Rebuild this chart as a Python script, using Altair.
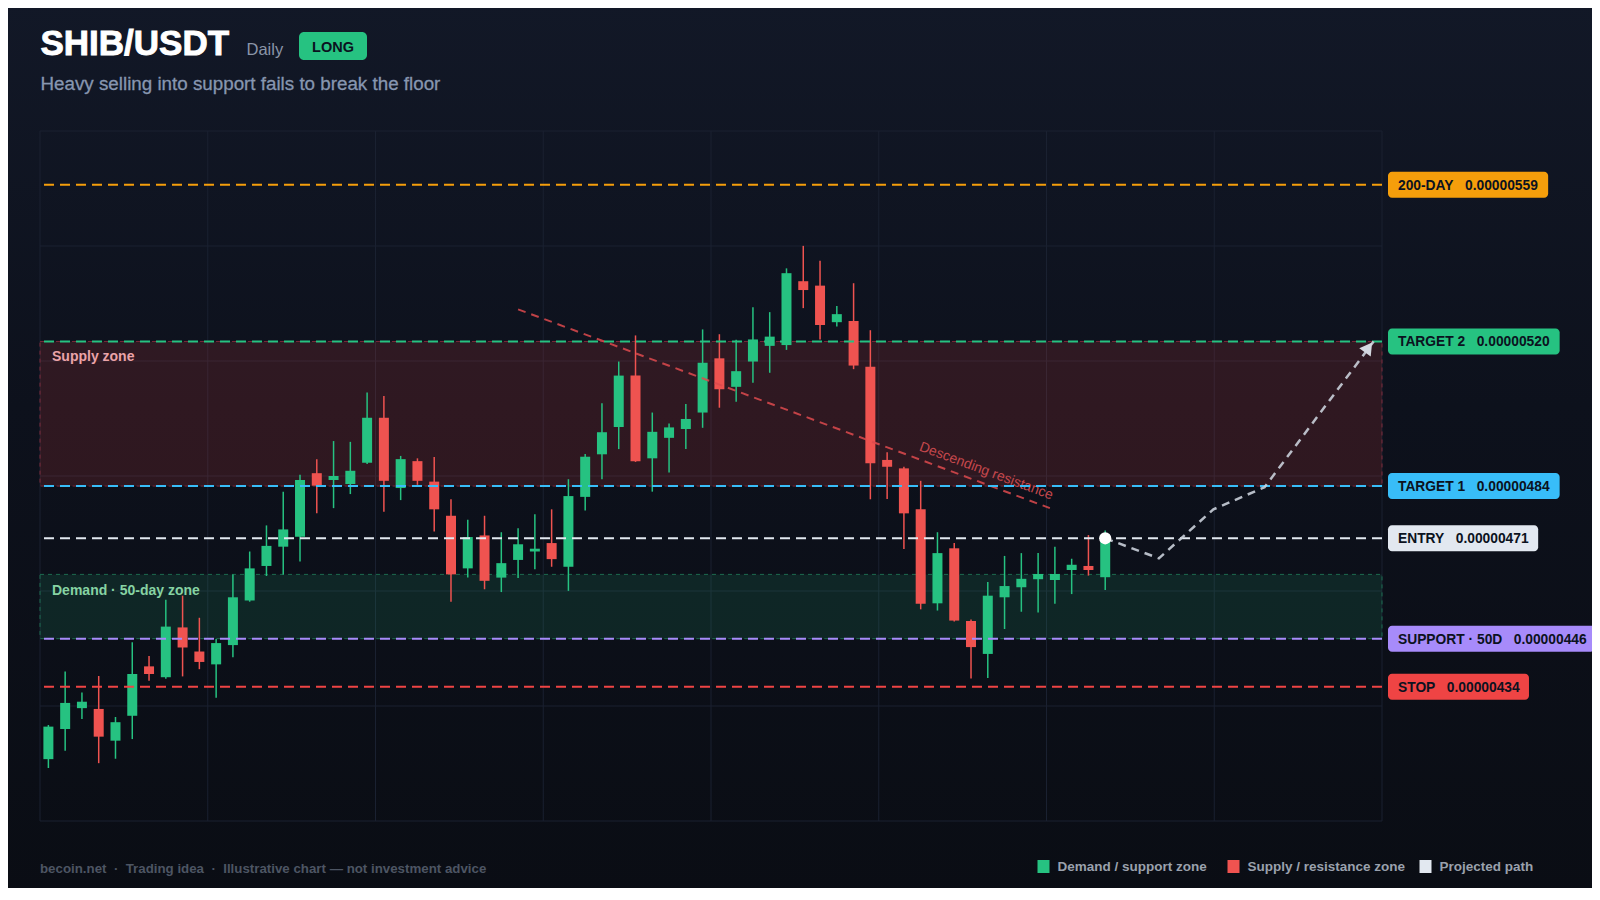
import altair as alt
import pandas as pd

# ---------------- data (prices in units of 1e-8 USDT) ----------------
SCALE = 1e-8

OPEN = [416.0, 423.5, 428.7, 428.5, 420.6, 426.8, 439.1, 436.4, 448.8, 442.8,
        439.6, 444.4, 455.5, 464.1, 468.9, 471.4, 487.2, 485.5, 484.5, 489.8,
        501.0, 483.5, 490.2, 485.1, 476.6, 463.5, 471.7, 461.2, 465.6, 467.7,
        469.8, 463.9, 481.3, 491.9, 498.7, 511.5, 490.9, 496.0, 498.2, 502.3,
        515.8, 508.7, 515.0, 518.9, 519.1, 535.0, 533.9, 524.8, 525.1, 513.7,
        490.5, 488.4, 478.2, 454.8, 468.5, 450.4, 442.2, 456.3, 458.8, 460.8,
        460.6, 463.1, 464.1, 461.3]
HIGH = [424.5, 437.8, 432.6, 436.7, 426.5, 445.1, 441.7, 455.7, 456.7, 451.2,
        445.9, 462.0, 467.7, 474.2, 482.6, 486.8, 490.7, 495.2, 495.0, 507.3,
        506.4, 491.5, 490.9, 491.2, 480.7, 475.6, 476.6, 472.5, 473.5, 477.0,
        478.2, 485.7, 492.0, 504.6, 515.0, 521.5, 502.3, 499.6, 504.4, 523.0,
        521.8, 520.4, 528.5, 527.3, 538.2, 543.8, 540.1, 528.8, 534.5, 522.8,
        492.4, 488.8, 485.3, 472.5, 469.8, 450.8, 460.1, 466.6, 467.3, 467.3,
        468.9, 465.9, 471.8, 472.9]
LOW = [413.8, 418.1, 426.0, 415.0, 416.1, 421.0, 435.5, 436.0, 436.6, 438.4,
       431.3, 441.4, 455.2, 461.6, 462.0, 465.2, 477.2, 478.5, 482.0, 489.5,
       477.6, 480.5, 484.3, 472.7, 455.2, 461.2, 458.3, 457.6, 461.1, 463.3,
       463.9, 457.9, 477.9, 485.7, 493.2, 490.0, 482.6, 487.4, 493.2, 498.5,
       503.5, 505.0, 509.7, 512.2, 517.9, 528.3, 520.5, 523.7, 513.1, 480.7,
       480.8, 468.3, 453.3, 453.0, 450.3, 436.1, 436.2, 448.4, 452.7, 452.5,
       454.7, 457.1, 461.7, 458.1]
CLOSE = [424.1, 430.0, 430.3, 421.6, 425.2, 437.2, 437.2, 449.0, 443.8, 440.2,
         444.9, 456.3, 463.5, 469.1, 473.2, 485.5, 484.1, 486.5, 487.8, 501.0,
         485.3, 490.7, 485.3, 478.2, 462.0, 471.3, 460.4, 464.8, 469.5, 468.4,
         465.8, 481.5, 491.3, 497.4, 511.5, 490.2, 497.5, 498.6, 500.7, 514.7,
         508.1, 512.6, 520.5, 521.2, 537.0, 532.8, 524.1, 526.8, 514.0, 489.7,
         488.8, 477.2, 454.7, 467.3, 450.5, 443.9, 456.7, 459.1, 460.9, 462.1,
         462.1, 464.4, 463.1, 471.0]

LEVEL_NAMES = ["200-DAY", "TARGET 2", "TARGET 1", "ENTRY", "SUPPORT · 50D", "STOP"]
LEVEL_VALUES = [559, 520, 484, 471, 446, 434]
LEVEL_COLORS = ["#f59e0b", "#26c281", "#38bdf8", "#e2e8f0", "#a78bfa", "#ef4444"]

SUPPLY_ZONE = [484, 520]
DEMAND_ZONE = [446, 462]

RES_X = [28, 59.7]
RES_Y = [528, 478.5]

PATH_X = [63, 66.2, 69.45, 72.5, 79]
PATH_Y = [471, 466, 478.2, 483.7, 520]
ARROW_X, ARROW_Y = 78.7, 518.5

N_SLOTS = 80
Y_DOMAIN = [400.6, 572.4]

# ---------------- style ----------------
W, H = 1342, 690
FONT = "Liberation Sans"
GREEN = "#26c281"
RED = "#ef5350"
GRID = "#1a2131"
DARK_TXT = "#0b1220"
LABEL_FS = 13.8

XS = alt.Scale(domain=[-0.5, N_SLOTS - 0.5], nice=False, zero=False, padding=0)
YS = alt.Scale(domain=[Y_DOMAIN[0] * SCALE, Y_DOMAIN[1] * SCALE], nice=False, zero=False, padding=0)

one = pd.DataFrame({"k": [0]})
NB = "\u00a0"


def X(f):
    return alt.X(f, type="quantitative", scale=XS, axis=None)


def Y(f):
    return alt.Y(f, type="quantitative", scale=YS, axis=None)


# Arial/Liberation Sans Bold advance widths (em)
AB = {c: 0.556 for c in "0123456789"}
AB.update({".": 0.278, "-": 0.333, " ": 0.278, NB: 0.278, "·": 0.278,
           "A": 0.722, "D": 0.722, "Y": 0.667, "T": 0.611, "R": 0.722, "G": 0.778,
           "E": 0.667, "N": 0.722, "S": 0.667, "U": 0.722, "P": 0.667, "O": 0.778})


def text_w(s, size):
    return sum(AB.get(c, 0.6) for c in s) * size


# ---------------- frames ----------------
cd = pd.DataFrame({
    "i": list(range(len(OPEN))),
    "o": [v * SCALE for v in OPEN],
    "h": [v * SCALE for v in HIGH],
    "l": [v * SCALE for v in LOW],
    "c": [v * SCALE for v in CLOSE],
    "col": [GREEN if c >= o else RED for o, c in zip(OPEN, CLOSE)],
})

gx = pd.DataFrame({"x": [-0.5 + 10 * k for k in range(9)]})
gy = pd.DataFrame({"y": [(Y_DOMAIN[0] + k * (Y_DOMAIN[1] - Y_DOMAIN[0]) / 6) * SCALE for k in range(7)]})

zd = pd.DataFrame({
    "x0": [-0.5, -0.5], "x1": [N_SLOTS - 0.5, N_SLOTS - 0.5],
    "lo": [SUPPLY_ZONE[0] * SCALE, DEMAND_ZONE[0] * SCALE],
    "hi": [SUPPLY_ZONE[1] * SCALE, DEMAND_ZONE[1] * SCALE],
    "fill": ["#ef4444", GREEN],
    "stroke": ["#7a2a3a", "#1d6b4f"],
    "op": [0.15, 0.13],
})

ld = pd.DataFrame({
    "name": LEVEL_NAMES,
    "p": [v * SCALE for v in LEVEL_VALUES],
    "col": LEVEL_COLORS,
    "txt": [f"{n}{NB * 3}{v * SCALE:.8f}" for n, v in zip(LEVEL_NAMES, LEVEL_VALUES)],
})

rd = pd.DataFrame({"x": RES_X, "y": [v * SCALE for v in RES_Y]})
pdx = pd.DataFrame({"x": PATH_X, "y": [v * SCALE for v in PATH_Y], "o": list(range(len(PATH_X)))})

# ---------------- layers ----------------
layers = []

bg = alt.Chart(one).mark_rect(
    color=alt.LinearGradient(
        gradient="linear",
        stops=[alt.GradientStop(color="#121827", offset=0),
               alt.GradientStop(color="#0d111c", offset=0.45),
               alt.GradientStop(color="#0a0d14", offset=1)],
        x1=0, x2=0, y1=0, y2=1)
).encode(x=alt.value(-40), x2=alt.value(W + 240), y=alt.value(-131), y2=alt.value(H + 80))
layers.append(bg)

layers.append(alt.Chart(gx).mark_rule(color=GRID, strokeWidth=1).encode(x=X("x")))
layers.append(alt.Chart(gy).mark_rule(color=GRID, strokeWidth=1).encode(y=Y("y")))

layers.append(alt.Chart(zd).mark_rect(strokeWidth=1, strokeDash=[4, 4]).encode(
    x=X("x0"), x2="x1", y=Y("lo"), y2="hi",
    fill=alt.Fill("fill:N", scale=None),
    fillOpacity=alt.FillOpacity("op:Q", scale=None),
    stroke=alt.Stroke("stroke:N", scale=None)))

zl = pd.DataFrame({"t": ["Supply zone"], "p": [SUPPLY_ZONE[1] * SCALE]})
layers.append(alt.Chart(zl).mark_text(align="left", baseline="alphabetic", dx=12, dy=20,
                                      font=FONT, fontSize=14, fontWeight="bold",
                                      color="#eba3a8").encode(
    x=alt.value(0), y=Y("p"), text="t:N"))
zl2 = pd.DataFrame({"t": ["Demand · 50-day zone"], "p": [DEMAND_ZONE[1] * SCALE]})
layers.append(alt.Chart(zl2).mark_text(align="left", baseline="alphabetic", dx=12, dy=21,
                                       font=FONT, fontSize=14, fontWeight="bold",
                                       color="#86d3a3").encode(
    x=alt.value(0), y=Y("p"), text="t:N"))

# candles
layers.append(alt.Chart(cd).mark_rule(strokeWidth=1.5).encode(
    x=X("i"), y=Y("l"), y2="h", color=alt.Color("col:N", scale=None)))
layers.append(alt.Chart(cd).mark_bar(size=10).encode(
    x=X("i"), y=Y("o"), y2="c", color=alt.Color("col:N", scale=None)))

# descending resistance
layers.append(alt.Chart(rd).mark_line(color="#dd4a4e", strokeWidth=2, strokeDash=[8, 6],
                                      opacity=0.85).encode(x=X("x"), y=Y("y")))
rt = pd.DataFrame({"x": [55.9], "y": [487.7 * SCALE], "t": ["Descending resistance"]})
layers.append(alt.Chart(rt).mark_text(angle=20.5, align="center", baseline="middle",
                                      font=FONT, fontSize=14, color="#c4474c").encode(
    x=X("x"), y=Y("y"), text="t:N"))

# price level lines
layers.append(alt.Chart(ld).mark_rule(strokeWidth=2, strokeDash=[10, 6]).encode(
    y=Y("p"), color=alt.Color("col:N", scale=None)))

# projected path
layers.append(alt.Chart(pdx).mark_line(color="#c9cfd9", strokeWidth=2.5, strokeDash=[8, 6],
                                       opacity=0.9).encode(
    x=X("x"), y=Y("y"), order="o:Q"))
ad = pd.DataFrame({"x": [ARROW_X], "y": [ARROW_Y * SCALE]})
layers.append(alt.Chart(ad).mark_point(shape="triangle-up", filled=True, size=200, angle=36,
                                       color="#d4d8e0", opacity=1).encode(x=X("x"), y=Y("y")))

# entry dot
ed = pd.DataFrame({"x": [len(OPEN) - 1], "y": [LEVEL_VALUES[3] * SCALE]})
layers.append(alt.Chart(ed).mark_circle(size=150, color="#ffffff", opacity=1).encode(
    x=X("x"), y=Y("y")))

# right-hand level labels
LX = W + 6
for _, r in ld.iterrows():
    w = 10 + text_w(r["txt"], LABEL_FS) + 9
    one_lvl = pd.DataFrame({"p": [r["p"]]})
    layers.append(alt.Chart(one_lvl).mark_rect(cornerRadius=4, color=r["col"],
                                               yOffset=-13, y2Offset=13).encode(
        x=alt.value(LX), x2=alt.value(LX + w), y=Y("p"), y2="p"))
layers.append(alt.Chart(ld).mark_text(align="left", baseline="middle", dy=1, font=FONT,
                                      fontSize=LABEL_FS, fontWeight="bold", color=DARK_TXT).encode(
    x=alt.value(LX + 10), y=Y("p"), text="txt:N"))

# header
layers.append(alt.Chart(one).mark_text(align="left", baseline="alphabetic", font=FONT,
                                       fontSize=35, fontWeight="bold", color="#ffffff",
                                       stroke="#ffffff", strokeWidth=0.9).encode(
    x=alt.value(0.5), y=alt.value(-76), text=alt.value("SHIB/USDT")))
layers.append(alt.Chart(one).mark_text(align="left", baseline="alphabetic", font=FONT,
                                       fontSize=16.5, color="#8b95a8").encode(
    x=alt.value(206.5), y=alt.value(-76), text=alt.value("Daily")))
layers.append(alt.Chart(one).mark_rect(cornerRadius=5, color=GREEN).encode(
    x=alt.value(259), x2=alt.value(327), y=alt.value(-99), y2=alt.value(-71)))
layers.append(alt.Chart(one).mark_text(align="center", baseline="alphabetic", font=FONT,
                                       fontSize=14.5, fontWeight="bold", color=DARK_TXT).encode(
    x=alt.value(293), y=alt.value(-79.5), text=alt.value("LONG")))
layers.append(alt.Chart(one).mark_text(align="left", baseline="alphabetic", font=FONT,
                                       fontSize=18.8, color="#8796b0",
                                       stroke="#8796b0", strokeWidth=0.3).encode(
    x=alt.value(0.5), y=alt.value(-41), text=alt.value("Heavy selling into support fails to break the floor")))

# footer
layers.append(alt.Chart(one).mark_text(align="left", baseline="middle", font=FONT,
                                       fontSize=13.3, fontWeight="bold", color="#4d5563").encode(
    x=alt.value(0), y=alt.value(738),
    text=alt.value(f"becoin.net{NB}{NB}·{NB}{NB}Trading idea{NB}{NB}·{NB}{NB}Illustrative chart — not investment advice")))

LEG_LABELS = ["Demand / support zone", "Supply / resistance zone", "Projected path"]
LEG_COLORS = [GREEN, RED, "#e2e8f0"]
LEG_X = [997.5, 1187.5, 1379.5]
for lab, col, lx in zip(LEG_LABELS, LEG_COLORS, LEG_X):
    layers.append(alt.Chart(one).mark_rect(color=col).encode(
        x=alt.value(lx), x2=alt.value(lx + 12), y=alt.value(729), y2=alt.value(742)))
    layers.append(alt.Chart(one).mark_text(align="left", baseline="middle", font=FONT,
                                           fontSize=13.5, fontWeight="bold", color="#9aa1ad").encode(
        x=alt.value(lx + 20), y=alt.value(735.5), text=alt.value(lab)))

chart = alt.layer(*layers).properties(
    width=W, height=H,
    padding={"left": 32, "top": 123, "right": 210, "bottom": 67},
    autosize=alt.AutoSizeParams(type="none"),
).configure(background="#0d111c").configure_view(strokeWidth=0)

chart.save("out.html", embed_options={"renderer": "svg", "actions": False})
